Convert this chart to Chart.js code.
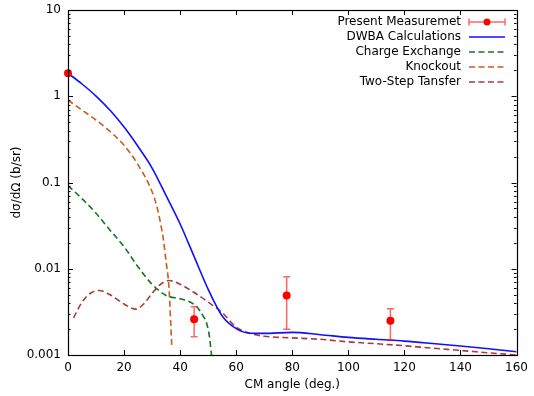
<!DOCTYPE html>
<html>
<head>
<meta charset="utf-8">
<script src="https://cdn.jsdelivr.net/npm/chart.js@4/dist/chart.umd.min.js"></script>
<style>
  html, body { margin: 0; padding: 0; background: #fff; }
  #wrap { width: 534px; height: 396px; }
</style>
</head>
<body>
<div id="wrap"><canvas id="xsChart"></canvas></div>
<script>
// measured points (deg, b/sr) with lower / upper error values
const measAngle = [0, 45, 78, 115];
const measValue = [1.85, 0.0026, 0.0049, 0.0025];
const measLow = [1.85, 0.00163, 0.00199, 0.00149];
const measHigh = [1.85, 0.00363, 0.0081, 0.00344];

const dwbaAngle = [0, 5, 10, 15, 20, 25, 30, 35, 40, 45, 50, 55, 60, 65, 70, 80, 90, 100, 110, 120, 130, 140, 150, 160];
const dwbaValue = [1.85, 1.387, 1.005, 0.687, 0.439, 0.261, 0.147, 0.0703, 0.033, 0.0138, 0.00577, 0.00283, 0.00202, 0.00179, 0.00178, 0.00183, 0.00172, 0.0016, 0.00152, 0.00145, 0.00136, 0.00127, 0.00118, 0.00109];

const chexAngle = [0, 5, 10, 15, 20, 25, 30, 35, 40, 43, 46, 48, 49.5, 50.5, 51.2, 51.6];
const chexValue = [0.092, 0.065, 0.044, 0.028, 0.018, 0.0105, 0.0066, 0.0049, 0.0045, 0.0042, 0.0036, 0.0029, 0.0023, 0.0016, 0.001, 0.0008];

const knockAngle = [0, 5, 10, 15, 20, 25, 30, 32, 34, 35, 36, 37];
const knockValue = [0.9, 0.69, 0.53, 0.39, 0.27, 0.16, 0.078, 0.048, 0.022, 0.012, 0.0062, 0.0013];

const twoStepAngle = [2, 5, 8, 11, 15, 20, 24, 27, 30, 33, 36, 40, 45, 50, 55, 60, 65, 70, 80, 90, 100, 110, 120, 130, 140, 150, 160];
const twoStepValue = [0.0027, 0.0041, 0.0052, 0.0056, 0.0050, 0.0039, 0.0034, 0.0039, 0.0052, 0.0066, 0.0073, 0.0066, 0.0053, 0.0041, 0.0031, 0.0021, 0.00178, 0.00165, 0.00158, 0.00152, 0.00142, 0.00135, 0.00128, 0.0012, 0.00113, 0.00106, 0.001];

const seriesNames = ['Present Measuremet', 'DWBA Calculations', 'Charge Exchange', 'Knockout', 'Two-Step Tansfer'];
const xTicks = [0, 20, 40, 60, 80, 100, 120, 140, 160];
const yDecades = [0.001, 0.01, 0.1, 1, 10];
const yTickLabels = ['0.001', '0.01', '0.1', '1', '10'];

Chart.defaults.font.family = 'DejaVu Sans';
Chart.defaults.font.size = 12;
Chart.defaults.color = '#000';

function pts(xs, ys) {
    return xs.map((x, i) => ({ x: x, y: ys[i] }));
}

const errorBarPlugin = {
    id: 'errorBars',
    beforeDatasetDraw(chart, args) {
        if (args.index !== 0) return;
        const ctx = chart.ctx;
        const xs = chart.scales.x, ys = chart.scales.y;
        ctx.save();
        ctx.strokeStyle = 'rgba(255,0,0,0.6)';
        ctx.lineWidth = 1.5;
        measAngle.forEach((a, i) => {
            if (measLow[i] === measHigh[i]) return;
            const px = xs.getPixelForValue(a);
            const y1 = ys.getPixelForValue(measLow[i]);
            const y2 = ys.getPixelForValue(measHigh[i]);
            ctx.beginPath();
            ctx.moveTo(px, y1); ctx.lineTo(px, y2);
            ctx.moveTo(px - 3.5, y1); ctx.lineTo(px + 3.5, y1);
            ctx.moveTo(px - 3.5, y2); ctx.lineTo(px + 3.5, y2);
            ctx.stroke();
        });
        ctx.restore();
    }
};

const framePlugin = {
    id: 'frame',
    afterDraw(chart) {
        const ctx = chart.ctx;
        const a = chart.chartArea;
        const xs = chart.scales.x, ys = chart.scales.y;
        ctx.save();
        ctx.strokeStyle = '#000';
        ctx.lineWidth = 1;
        ctx.beginPath();
        xTicks.forEach(t => {
            const px = Math.round(xs.getPixelForValue(t)) + 0.5;
            ctx.moveTo(px, a.bottom); ctx.lineTo(px, a.bottom - 5);
            ctx.moveTo(px, a.top); ctx.lineTo(px, a.top + 5);
        });
        yDecades.forEach((d, k) => {
            const py = Math.round(ys.getPixelForValue(d)) + 0.5;
            ctx.moveTo(a.left, py); ctx.lineTo(a.left + 5, py);
            ctx.moveTo(a.right, py); ctx.lineTo(a.right - 5, py);
            if (k === yDecades.length - 1) return;
            for (let m = 2; m <= 9; m++) {
                const q = Math.round(ys.getPixelForValue(d * m)) + 0.5;
                ctx.moveTo(a.left, q); ctx.lineTo(a.left + 2.5, q);
                ctx.moveTo(a.right, q); ctx.lineTo(a.right - 2.5, q);
            }
        });
        ctx.stroke();
        ctx.lineWidth = 1.2;
        ctx.strokeRect(Math.round(a.left) + 0.5, Math.round(a.top) + 0.5,
            Math.round(a.right - a.left), Math.round(a.bottom - a.top));

        // legend, samples to the right of the text
        const textRight = 461, x0 = 469, x1 = 505;
        ctx.font = '12px "DejaVu Sans"';
        ctx.textAlign = 'right';
        ctx.textBaseline = 'middle';
        chart.data.datasets.forEach((ds, i) => {
            const y = 22 + i * 15;
            ctx.fillStyle = '#000';
            ctx.fillText(seriesNames[i], textRight, y);
            ctx.save();
            if (i === 0) {
                ctx.strokeStyle = 'rgba(255,0,0,0.6)';
                ctx.lineWidth = 1.5;
                ctx.beginPath();
                ctx.moveTo(x0, y); ctx.lineTo(x1, y);
                ctx.moveTo(x0, y - 3.5); ctx.lineTo(x0, y + 3.5);
                ctx.moveTo(x1, y - 3.5); ctx.lineTo(x1, y + 3.5);
                ctx.stroke();
                ctx.fillStyle = '#ff0000';
                ctx.beginPath();
                ctx.arc((x0 + x1) / 2, y, 3.5, 0, Math.PI * 2);
                ctx.fill();
            } else {
                ctx.strokeStyle = ds.borderColor;
                ctx.lineWidth = ds.borderWidth;
                ctx.setLineDash(ds.borderDash || []);
                ctx.beginPath();
                ctx.moveTo(x0, y); ctx.lineTo(x1, y);
                ctx.stroke();
            }
            ctx.restore();
        });
        ctx.restore();
    }
};

const lineOpts = {
    type: 'line',
    pointRadius: 0,
    fill: false,
    borderWidth: 1.6,
    cubicInterpolationMode: 'monotone'
};

new Chart(document.getElementById('xsChart'), {
    type: 'line',
    data: {
        datasets: [{
            label: seriesNames[0],
            type: 'scatter',
            data: pts(measAngle, measValue),
            showLine: false,
            pointRadius: 4,
            pointBackgroundColor: '#ff0000',
            pointBorderColor: '#ff0000',
            pointBorderWidth: 0,
            clip: false
        }, Object.assign({}, lineOpts, {
            label: seriesNames[1],
            data: pts(dwbaAngle, dwbaValue),
            borderColor: '#1010ff'
        }), Object.assign({}, lineOpts, {
            label: seriesNames[2],
            data: pts(chexAngle, chexValue),
            borderColor: '#16761a',
            borderDash: [6, 3.5]
        }), Object.assign({}, lineOpts, {
            label: seriesNames[3],
            data: pts(knockAngle, knockValue),
            borderColor: '#cc5a18',
            borderDash: [6, 3.5]
        }), Object.assign({}, lineOpts, {
            label: seriesNames[4],
            data: pts(twoStepAngle, twoStepValue),
            borderColor: '#ad3838',
            borderDash: [6, 3.5]
        })]
    },
    options: {
        responsive: true,
        maintainAspectRatio: false,
        animation: false,
        layout: { padding: { left: 0, right: 17, top: 10, bottom: 0 } },
        plugins: {
            legend: { display: false },
            tooltip: { enabled: false }
        },
        scales: {
            x: {
                type: 'linear',
                min: 0,
                max: 160,
                grid: { display: false, drawTicks: false },
                border: { display: false },
                ticks: { stepSize: 20, padding: 6, maxRotation: 0 },
                title: { display: true, text: 'CM angle (deg.)', padding: { top: 0, bottom: 4 } },
                afterFit(scale) { scale.height = 41; }
            },
            y: {
                type: 'logarithmic',
                min: 0.001,
                max: 10,
                grid: { display: false, drawTicks: false },
                border: { display: false },
                ticks: {
                    padding: 7,
                    autoSkip: false,
                    callback(v) {
                        const k = yDecades.findIndex(d => Math.abs(d - v) < d * 1e-6);
                        return k >= 0 ? yTickLabels[k] : '';
                    }
                },
                afterBuildTicks(scale) {
                    scale.ticks = yDecades.map(d => ({ value: d }));
                },
                title: { display: true, text: 'dσ/dΩ (b/sr)', padding: { top: 10, bottom: 0 } },
                afterFit(scale) {
                    scale.width = 68;
                    scale.paddingTop = 0;
                    scale.paddingBottom = 0;
                }
            }
        }
    },
    plugins: [errorBarPlugin, framePlugin]
});
</script>
</body>
</html>
